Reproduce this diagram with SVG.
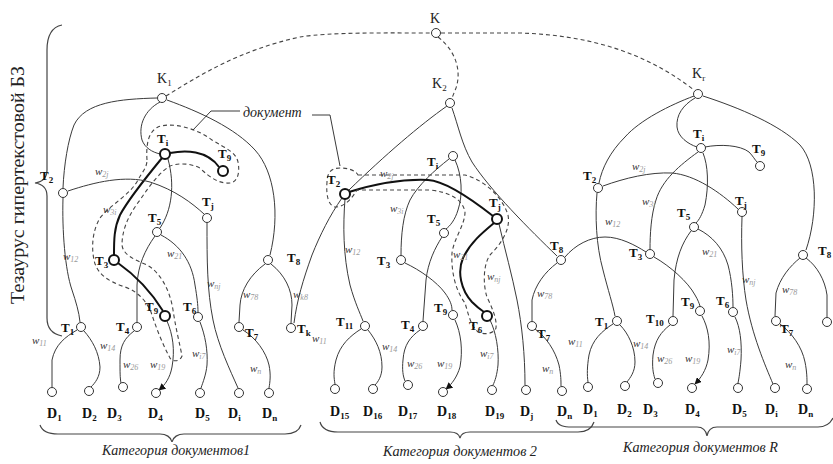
<svg xmlns="http://www.w3.org/2000/svg" width="833" height="464" viewBox="0 0 833 464">
<style>
.e{fill:none;stroke:#3a3a3a;stroke-width:1}
.eb{fill:none;stroke:#111;stroke-width:2}
.d{fill:none;stroke:#444;stroke-width:1.1;stroke-dasharray:4 3}
.br{fill:none;stroke:#444;stroke-width:1.2}
.n{fill:#fff;stroke:#333;stroke-width:1}
.nb{fill:#fff;stroke:#111;stroke-width:2}
.tl{font-family:"Liberation Serif",serif;font-weight:bold;font-size:13px;fill:#111}
.dl{font-family:"Liberation Serif",serif;font-weight:bold;font-size:14px;fill:#111}
.kl{font-family:"Liberation Serif",serif;font-size:14px;fill:#222}
.s{font-size:9px}
.w{font-family:"Liberation Serif",serif;font-style:italic;font-size:11px;fill:#333}
.ws{font-size:8px;fill:#999}
.cat{font-family:"Liberation Serif",serif;font-style:italic;font-size:14px;fill:#222}
</style>
<defs>
<marker id="arr" viewBox="0 0 10 10" refX="9" refY="5" markerWidth="7" markerHeight="7" markerUnits="userSpaceOnUse" orient="auto">
<path d="M0,0 L10,5 L0,10 Z" fill="#111"/>
</marker>
</defs>
<rect width="833" height="464" fill="#fff"/>

<!-- side brace and vertical title -->
<path class="br" d="M62,25 C 52,27 47,35 47,50 L 47,170 C 47,178 42,182 35,183 C 42,184 47,188 47,196 L 47,318 C 47,328 52,334 62,336"/>
<text font-family="Liberation Serif,serif" font-size="18" fill="#222" text-anchor="middle" textLength="238" lengthAdjust="spacingAndGlyphs" transform="translate(24,185) rotate(-90)">Тезаурус гипертекстовой БЗ</text>

<!-- category braces -->
<path class="br" d="M40,425 C 42,431 48,434 58,434 L 160,434 C 166,434 171,437 172,442 C 173,437 178,434 184,434 L 285,434 C 294,434 299,431 301,425"/>
<path class="br" d="M320,422 C 322,429 328,432 338,432 L 450,432 C 456,432 459,434 460,438 C 461,434 464,432 470,432 L 578,432 C 587,432 592,428 594,422"/>
<path class="br" d="M556,420 C 558,426 564,427 572,427 L 697,427 C 703,427 706,430 707,436 C 708,430 711,427 717,427 L 818,427 C 826,427 830,424 833,418"/>
<text class="cat" x="102" y="455" textLength="148" lengthAdjust="spacingAndGlyphs">Категория документов1</text>
<text class="cat" x="383" y="456" textLength="154" lengthAdjust="spacingAndGlyphs">Категория документов 2</text>
<text class="cat" x="623" y="452" textLength="155" lengthAdjust="spacingAndGlyphs">Категория документов R</text>

<g id="connectors">
<!-- top-level dashed links -->
<path class="d" d="M166,96 C 200,75 240,50 300,37 C 330,32 390,33 431,33"/>
<path class="d" d="M441,33 L 520,33 C 580,35 640,48 694,90"/>
<path class="d" d="M438,37 C 455,50 462,70 456,88 L 452,98"/>

<!-- category 1 -->
<path class="e" d="M157,98 C 120,99 85,102 74,125 C 68,140 64,165 63,188"/>
<path class="e" d="M160,102 C 145,110 138,125 142,140 C 145,148 152,152 160,154"/>
<path class="e" d="M167,100 C 200,112 235,128 255,150 C 275,172 280,215 270,255"/>
<path class="eb" d="M170,153 C 185,150 207,150 219,167"/>
<path class="eb" d="M162,158 C 148,175 128,200 120,215 C 114,228 114,240 114,255"/>
<path class="e" d="M168,159 C 175,185 172,210 160,228"/>
<path class="e" d="M68,191 C 95,182 125,175 150,182 C 175,190 192,203 204,214"/>
<path class="e" d="M63,198 C 62,230 65,270 72,290 C 76,302 79,312 80,322"/>
<path class="e" d="M207,223 C 207,260 207,290 213,320 C 218,345 230,370 238,388"/>
<path class="e" d="M161,235 C 180,245 192,262 195,285 C 197,297 198,305 198,312"/>
<path class="e" d="M155,236 C 145,250 138,265 137,285 L 137,322"/>
<path class="eb" d="M118,263 C 135,275 150,290 163,311"/>
<path class="e" d="M265,264 C 250,275 241,290 240,305 L 239,322"/>
<path class="e" d="M271,264 C 285,275 292,290 292,305 L 291,323"/>
<path class="e" d="M77,330 C 65,337 55,345 52,360 L 52,387"/>
<path class="e" d="M84,331 C 92,340 99,352 100,367 C 100,377 95,383 91,387"/>
<path class="e" d="M134,331 C 125,338 120,345 120,360 C 120,372 120,378 121,383"/>
<path class="e" d="M167,321 C 173,335 175,350 172,367 C 170,378 165,385 159,390" marker-end="url(#arr)"/>
<path class="e" d="M200,322 C 205,335 208,350 207,365 C 206,375 203,382 201,388"/>
<path class="e" d="M243,330 C 256,338 266,352 269,365 C 271,375 270,382 269,388"/>
<!-- document contour, category 1 -->
<path class="d" d="M147,160 C 146,145 148,132 158,127 C 170,122 195,127 212,140 C 225,148 236,152 238,162 C 240,172 238,182 230,183 C 220,184 210,178 200,168 C 190,163 178,163 170,166 C 160,172 150,185 140,200 C 130,213 122,228 122,245 C 123,255 135,260 147,265 C 160,272 170,290 173,310 C 176,330 180,345 182,356 C 180,362 172,362 170,358 C 163,345 157,330 152,315 C 149,305 140,292 125,287 C 110,282 97,275 94,260 C 91,245 93,230 100,218 C 110,205 130,195 138,180 C 142,172 147,168 147,160 Z"/>
<!-- leader lines of the "документ" callout -->
<path class="e" d="M240,111 L211,111 L193,130"/>
<path class="e" d="M312,115 L330,115 L340,166"/>

<!-- category 2 -->
<path class="e" d="M447,106 C 420,125 385,155 349,190"/>
<path class="e" d="M342,198 C 330,215 320,235 312,255 C 303,280 297,300 294,323"/>
<path class="e" d="M452,108 C 458,125 462,145 472,162 C 490,190 530,230 557,256"/>
<path class="e" d="M449,159 C 435,170 418,185 410,200 C 403,215 401,235 401,255"/>
<path class="e" d="M455,160 C 462,175 463,195 458,210 C 455,220 450,226 446,229"/>
<path class="e" d="M345,199 C 343,225 343,255 350,285 C 355,303 360,313 363,321"/>
<path class="e" d="M405,263 C 420,270 437,282 445,293 C 450,300 452,305 452,310"/>
<path class="e" d="M442,237 C 435,248 428,262 426,280 L 423,321"/>
<path class="e" d="M499,224 C 505,250 512,275 517,300 C 522,325 525,355 525,385"/>
<path class="e" d="M557,263 C 545,272 535,285 532,300 L 532,321"/>
<path class="e" d="M565,257 C 575,245 590,237 605,237 C 620,237 635,245 646,252"/>
<path class="eb" d="M349,192 C 375,184 405,179 428,180 C 445,181 470,198 493,216"/>
<path class="eb" d="M494,223 C 482,233 470,243 463,258 C 457,272 461,290 472,302 C 477,307 481,310 484,312"/>
<path class="e" d="M455,320 C 461,333 463,350 460,367 C 457,377 452,384 446,389" marker-end="url(#arr)"/>
<path class="e" d="M490,320 C 496,332 499,350 498,365 C 497,375 495,381 493,385"/>
<path class="e" d="M361,329 C 350,336 340,345 336,360 C 333,372 334,378 335,384"/>
<path class="e" d="M368,330 C 376,340 382,352 382,367 C 382,376 378,382 375,385"/>
<path class="e" d="M420,330 C 410,337 404,345 403,360 C 402,370 403,376 405,381"/>
<path class="e" d="M535,329 C 546,337 555,350 559,365 C 561,375 561,381 561,386"/>
<!-- document contour, category 2 -->
<path class="d" d="M358,175 L 465,175 C 485,180 503,198 508,215 C 511,230 500,245 490,255 C 483,265 483,285 487,297 C 492,308 497,318 496,328 C 494,334 484,335 478,332 C 470,325 468,312 465,303 C 455,290 451,270 452,253 C 454,238 465,225 465,212 C 463,200 450,192 430,190 L 357,190 C 352,198 345,207 335,207 C 328,205 326,195 327,182 C 327,172 332,168 340,168 C 348,168 355,170 358,175 Z"/>

<!-- category R -->
<path class="e" d="M694,96 C 670,105 640,120 625,137 C 610,152 602,168 599,183"/>
<path class="e" d="M597,193 C 595,215 596,245 603,270 C 608,290 613,305 615,316"/>
<path class="e" d="M695,98 C 683,105 676,115 677,127 C 678,137 688,144 697,147"/>
<path class="e" d="M703,96 C 740,108 780,125 800,145 C 818,165 818,215 806,250"/>
<path class="e" d="M705,147 C 720,144 740,145 749,152 C 753,156 755,160 757,162"/>
<path class="e" d="M698,152 C 680,165 662,180 656,200 C 651,215 650,235 650,249"/>
<path class="e" d="M703,153 C 708,165 709,185 705,205 C 702,215 699,220 696,223"/>
<path class="e" d="M603,186 C 625,178 650,172 672,173 C 695,175 720,192 738,209"/>
<path class="e" d="M742,217 C 741,245 742,275 746,300 C 752,335 765,365 773,384"/>
<path class="e" d="M691,231 C 682,243 676,258 674,280 L 673,316"/>
<path class="e" d="M698,229 C 712,236 723,248 728,265 C 732,280 733,297 733,307"/>
<path class="e" d="M654,257 C 670,266 688,282 695,295 C 698,300 699,303 700,306"/>
<path class="e" d="M800,258 C 790,266 780,278 776,293 L 775,316"/>
<path class="e" d="M806,258 C 817,266 825,280 827,295 L 827,317"/>
<path class="e" d="M613,324 C 602,331 592,340 589,355 C 587,367 587,375 588,382"/>
<path class="e" d="M620,325 C 628,333 635,347 635,362 C 635,372 630,378 627,382"/>
<path class="e" d="M670,325 C 661,332 655,340 653,355 C 652,367 653,373 655,379"/>
<path class="e" d="M702,316 C 708,327 711,342 708,360 C 706,370 701,378 695,384" marker-end="url(#arr)"/>
<path class="e" d="M735,317 C 740,327 742,342 741,360 C 740,372 739,378 738,383"/>
<path class="e" d="M780,324 C 792,333 802,347 805,362 C 807,372 807,379 807,384"/>
</g>

<!-- callout label -->
<text x="243" y="117" font-family="Liberation Serif,serif" font-style="italic" font-size="14" fill="#222">документ</text>

<!-- link weights -->
<g id="weights">
<text class="w" x="95" y="175">w<tspan class="ws" dy="2">2j</tspan></text>
<text class="w" x="103" y="213">w<tspan class="ws" dy="2">3i</tspan></text>
<text class="w" x="63" y="260">w<tspan class="ws" dy="2">12</tspan></text>
<text class="w" x="167" y="257">w<tspan class="ws" dy="2">21</tspan></text>
<text class="w" x="207" y="287">w<tspan class="ws" dy="2">nj</tspan></text>
<text class="w" x="243" y="298">w<tspan class="ws" dy="2">78</tspan></text>
<text class="w" x="293" y="298">w<tspan class="ws" dy="2">k8</tspan></text>
<text class="w" x="32" y="344">w<tspan class="ws" dy="2">11</tspan></text>
<text class="w" x="100" y="349">w<tspan class="ws" dy="2">14</tspan></text>
<text class="w" x="123" y="368">w<tspan class="ws" dy="2">26</tspan></text>
<text class="w" x="150" y="368">w<tspan class="ws" dy="2">19</tspan></text>
<text class="w" x="192" y="357">w<tspan class="ws" dy="2">i7</tspan></text>
<text class="w" x="250" y="372">w<tspan class="ws" dy="2">n</tspan></text>

<text class="w" x="380" y="177">w<tspan class="ws" dy="2">2j</tspan></text>
<text class="w" x="390" y="212">w<tspan class="ws" dy="2">3i</tspan></text>
<text class="w" x="345" y="253">w<tspan class="ws" dy="2">12</tspan></text>
<text class="w" x="453" y="258">w<tspan class="ws" dy="2">21</tspan></text>
<text class="w" x="487" y="280">w<tspan class="ws" dy="2">nj</tspan></text>
<text class="w" x="537" y="297">w<tspan class="ws" dy="2">78</tspan></text>
<text class="w" x="312" y="342">w<tspan class="ws" dy="2">11</tspan></text>
<text class="w" x="382" y="350">w<tspan class="ws" dy="2">14</tspan></text>
<text class="w" x="407" y="367">w<tspan class="ws" dy="2">26</tspan></text>
<text class="w" x="437" y="367">w<tspan class="ws" dy="2">19</tspan></text>
<text class="w" x="480" y="357">w<tspan class="ws" dy="2">i7</tspan></text>
<text class="w" x="542" y="372">w<tspan class="ws" dy="2">n</tspan></text>

<text class="w" x="632" y="170">w<tspan class="ws" dy="2">2j</tspan></text>
<text class="w" x="642" y="205">w<tspan class="ws" dy="2">3i</tspan></text>
<text class="w" x="605" y="225">w<tspan class="ws" dy="2">12</tspan></text>
<text class="w" x="702" y="255">w<tspan class="ws" dy="2">21</tspan></text>
<text class="w" x="742" y="283">w<tspan class="ws" dy="2">nj</tspan></text>
<text class="w" x="782" y="293">w<tspan class="ws" dy="2">78</tspan></text>
<text class="w" x="568" y="345">w<tspan class="ws" dy="2">11</tspan></text>
<text class="w" x="633" y="347">w<tspan class="ws" dy="2">14</tspan></text>
<text class="w" x="657" y="362">w<tspan class="ws" dy="2">26</tspan></text>
<text class="w" x="685" y="362">w<tspan class="ws" dy="2">19</tspan></text>
<text class="w" x="727" y="353">w<tspan class="ws" dy="2">i7</tspan></text>
<text class="w" x="785" y="368">w<tspan class="ws" dy="2">n</tspan></text>
</g>

<!-- root -->
<g id="K"><circle class="n" cx="436" cy="33" r="4.5"/><text class="kl" x="430" y="23">K</text></g>

<!-- category 1 nodes -->
<g id="c1-K1"><circle class="n" cx="162" cy="98" r="4.5"/><text class="kl" x="157" y="83">K<tspan class="s" dy="3">1</tspan></text></g>
<g id="c1-Ti"><circle class="nb" cx="165" cy="154" r="5"/><text class="tl" x="157" y="143">T<tspan class="s" dy="3">i</tspan></text></g>
<g id="c1-T9a"><circle class="nb" cx="223" cy="171" r="5"/><text class="tl" x="218" y="158">T<tspan class="s" dy="3">9</tspan></text></g>
<g id="c1-T2"><circle class="n" cx="63" cy="193" r="4.5"/><text class="tl" x="40" y="180">T<tspan class="s" dy="3">2</tspan></text></g>
<g id="c1-Tj"><circle class="n" cx="207" cy="218" r="4.5"/><text class="tl" x="202" y="206">T<tspan class="s" dy="3">j</tspan></text></g>
<g id="c1-T5"><circle class="n" cx="157" cy="232" r="4.5"/><text class="tl" x="148" y="222">T<tspan class="s" dy="3">5</tspan></text></g>
<g id="c1-T3"><circle class="nb" cx="114" cy="260" r="5"/><text class="tl" x="95" y="265">T<tspan class="s" dy="3">3</tspan></text></g>
<g id="c1-T8"><circle class="n" cx="268" cy="260" r="4.5"/><text class="tl" x="287" y="262">T<tspan class="s" dy="3">8</tspan></text></g>
<g id="c1-T9b"><circle class="nb" cx="165" cy="316" r="5"/><text class="tl" x="145" y="311">T<tspan class="s" dy="3">9</tspan></text></g>
<g id="c1-T6"><circle class="n" cx="198" cy="317" r="4.5"/><text class="tl" x="183" y="311">T<tspan class="s" dy="3">6</tspan></text></g>
<g id="c1-T1"><circle class="n" cx="81" cy="327" r="4.5"/><text class="tl" x="61" y="332">T<tspan class="s" dy="3">1</tspan></text></g>
<g id="c1-T4"><circle class="n" cx="137" cy="327" r="4.5"/><text class="tl" x="116" y="331">T<tspan class="s" dy="3">4</tspan></text></g>
<g id="c1-T7"><circle class="n" cx="239" cy="327" r="4.5"/><text class="tl" x="245" y="337">T<tspan class="s" dy="3">7</tspan></text></g>
<g id="c1-Tk"><circle class="n" cx="291" cy="328" r="4.5"/><text class="tl" x="297" y="333">T<tspan class="s" dy="3">k</tspan></text></g>
<g id="c1-D1"><circle class="n" cx="52" cy="392" r="4.5"/><text class="dl" x="47" y="418">D<tspan class="s" dy="3">1</tspan></text></g>
<g id="c1-D2"><circle class="n" cx="89" cy="391" r="4.5"/><text class="dl" x="82" y="418">D<tspan class="s" dy="3">2</tspan></text></g>
<g id="c1-D3"><circle class="n" cx="123" cy="387" r="4.5"/><text class="dl" x="107" y="418">D<tspan class="s" dy="3">3</tspan></text></g>
<g id="c1-D4"><circle class="n" cx="156" cy="393" r="4.5"/><text class="dl" x="148" y="418">D<tspan class="s" dy="3">4</tspan></text></g>
<g id="c1-D5"><circle class="n" cx="200" cy="393" r="4.5"/><text class="dl" x="195" y="418">D<tspan class="s" dy="3">5</tspan></text></g>
<g id="c1-Di"><circle class="n" cx="239" cy="393" r="4.5"/><text class="dl" x="228" y="418">D<tspan class="s" dy="3">i</tspan></text></g>
<g id="c1-Dn"><circle class="n" cx="269" cy="393" r="4.5"/><text class="dl" x="262" y="418">D<tspan class="s" dy="3">n</tspan></text></g>

<!-- category 2 nodes -->
<g id="c2-K2"><circle class="n" cx="450" cy="103" r="4.5"/><text class="kl" x="432" y="88">K<tspan class="s" dy="3">2</tspan></text></g>
<g id="c2-Ti"><circle class="n" cx="453" cy="156" r="4.5"/><text class="tl" x="427" y="166">T<tspan class="s" dy="3">i</tspan></text></g>
<g id="c2-T2"><circle class="nb" cx="345" cy="194" r="5"/><text class="tl" x="327" y="184">T<tspan class="s" dy="3">2</tspan></text></g>
<g id="c2-Tj"><circle class="nb" cx="497" cy="219" r="5"/><text class="tl" x="489" y="207">T<tspan class="s" dy="3">j</tspan></text></g>
<g id="c2-T5"><circle class="n" cx="444" cy="233" r="4.5"/><text class="tl" x="427" y="223">T<tspan class="s" dy="3">5</tspan></text></g>
<g id="c2-T3"><circle class="n" cx="401" cy="260" r="4.5"/><text class="tl" x="377" y="265">T<tspan class="s" dy="3">3</tspan></text></g>
<g id="c2-T8"><circle class="n" cx="561" cy="260" r="4.5"/><text class="tl" x="550" y="250">T<tspan class="s" dy="3">8</tspan></text></g>
<g id="c2-T9"><circle class="n" cx="453" cy="315" r="4.5"/><text class="tl" x="434" y="312">T<tspan class="s" dy="3">9</tspan></text></g>
<g id="c2-T6"><circle class="nb" cx="487" cy="316" r="5"/><text class="tl" x="469" y="330">T<tspan class="s" dy="3">6</tspan></text></g>
<g id="c2-T11"><circle class="n" cx="365" cy="326" r="4.5"/><text class="tl" x="336" y="326">T<tspan class="s" dy="3">11</tspan></text></g>
<g id="c2-T4"><circle class="n" cx="423" cy="326" r="4.5"/><text class="tl" x="401" y="329">T<tspan class="s" dy="3">4</tspan></text></g>
<g id="c2-T7"><circle class="n" cx="532" cy="326" r="4.5"/><text class="tl" x="537" y="338">T<tspan class="s" dy="3">7</tspan></text></g>
<g id="c2-D15"><circle class="n" cx="335" cy="389" r="4.5"/><text class="dl" x="330" y="416">D<tspan class="s" dy="3">15</tspan></text></g>
<g id="c2-D16"><circle class="n" cx="373" cy="389" r="4.5"/><text class="dl" x="363" y="416">D<tspan class="s" dy="3">16</tspan></text></g>
<g id="c2-D17"><circle class="n" cx="408" cy="385" r="4.5"/><text class="dl" x="398" y="416">D<tspan class="s" dy="3">17</tspan></text></g>
<g id="c2-D18"><circle class="n" cx="443" cy="392" r="4.5"/><text class="dl" x="437" y="416">D<tspan class="s" dy="3">18</tspan></text></g>
<g id="c2-D19"><circle class="n" cx="492" cy="390" r="4.5"/><text class="dl" x="485" y="416">D<tspan class="s" dy="3">19</tspan></text></g>
<g id="c2-Dj"><circle class="n" cx="526" cy="390" r="4.5"/><text class="dl" x="520" y="416">D<tspan class="s" dy="3">j</tspan></text></g>
<g id="c2-Dn"><circle class="n" cx="562" cy="391" r="4.5"/><text class="dl" x="557" y="416">D<tspan class="s" dy="3">n</tspan></text></g>

<!-- category R nodes -->
<g id="cR-Kr"><circle class="n" cx="698" cy="94" r="4.5"/><text class="kl" x="692" y="78">K<tspan class="s" dy="3">r</tspan></text></g>
<g id="cR-Ti"><circle class="n" cx="701" cy="148" r="4.5"/><text class="tl" x="693" y="138">T<tspan class="s" dy="3">i</tspan></text></g>
<g id="cR-T9a"><circle class="n" cx="760" cy="166" r="4.5"/><text class="tl" x="752" y="153">T<tspan class="s" dy="3">9</tspan></text></g>
<g id="cR-T2"><circle class="n" cx="598" cy="188" r="4.5"/><text class="tl" x="583" y="180">T<tspan class="s" dy="3">2</tspan></text></g>
<g id="cR-Tj"><circle class="n" cx="742" cy="212" r="4.5"/><text class="tl" x="735" y="205">T<tspan class="s" dy="3">j</tspan></text></g>
<g id="cR-T5"><circle class="n" cx="694" cy="227" r="4.5"/><text class="tl" x="677" y="217">T<tspan class="s" dy="3">5</tspan></text></g>
<g id="cR-T3"><circle class="n" cx="650" cy="254" r="4.5"/><text class="tl" x="629" y="257">T<tspan class="s" dy="3">3</tspan></text></g>
<g id="cR-T8"><circle class="n" cx="803" cy="255" r="4.5"/><text class="tl" x="818" y="255">T<tspan class="s" dy="3">8</tspan></text></g>
<g id="cR-T9b"><circle class="n" cx="700" cy="311" r="4.5"/><text class="tl" x="681" y="306">T<tspan class="s" dy="3">9</tspan></text></g>
<g id="cR-T6"><circle class="n" cx="733" cy="312" r="4.5"/><text class="tl" x="716" y="305">T<tspan class="s" dy="3">6</tspan></text></g>
<g id="cR-T1"><circle class="n" cx="617" cy="321" r="4.5"/><text class="tl" x="595" y="326">T<tspan class="s" dy="3">1</tspan></text></g>
<g id="cR-T10"><circle class="n" cx="673" cy="321" r="4.5"/><text class="tl" x="646" y="323">T<tspan class="s" dy="3">10</tspan></text></g>
<g id="cR-T7"><circle class="n" cx="776" cy="321" r="4.5"/><text class="tl" x="780" y="333">T<tspan class="s" dy="3">7</tspan></text></g>
<g id="cR-Tx"><circle class="n" cx="827" cy="322" r="4.5"/></g>
<g id="cR-D1"><circle class="n" cx="588" cy="387" r="4.5"/><text class="dl" x="583" y="414">D<tspan class="s" dy="3">1</tspan></text></g>
<g id="cR-D2"><circle class="n" cx="625" cy="386" r="4.5"/><text class="dl" x="617" y="414">D<tspan class="s" dy="3">2</tspan></text></g>
<g id="cR-D3"><circle class="n" cx="658" cy="383" r="4.5"/><text class="dl" x="643" y="414">D<tspan class="s" dy="3">3</tspan></text></g>
<g id="cR-D4"><circle class="n" cx="692" cy="388" r="4.5"/><text class="dl" x="685" y="414">D<tspan class="s" dy="3">4</tspan></text></g>
<g id="cR-D5"><circle class="n" cx="738" cy="388" r="4.5"/><text class="dl" x="732" y="414">D<tspan class="s" dy="3">5</tspan></text></g>
<g id="cR-Di"><circle class="n" cx="775" cy="388" r="4.5"/><text class="dl" x="765" y="414">D<tspan class="s" dy="3">i</tspan></text></g>
<g id="cR-Dn"><circle class="n" cx="807" cy="389" r="4.5"/><text class="dl" x="798" y="414">D<tspan class="s" dy="3">n</tspan></text></g>
</svg>
